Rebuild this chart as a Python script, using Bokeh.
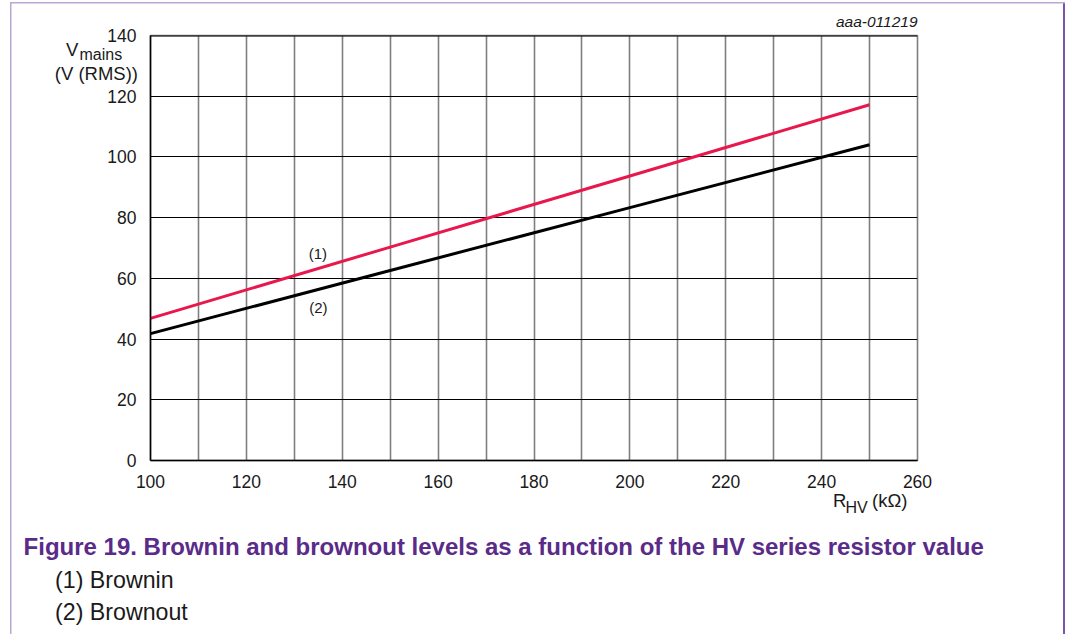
from bokeh.plotting import figure
from bokeh.models import Range1d, FixedTicker, Label, ColumnDataSource, Span
from bokeh.embed import file_html
from bokeh.resources import INLINE

# ---- data ----
r_hv = [100, 150, 200, 250]            # kOhm
brownin = [46.8, 70.3, 93.7, 117.2]    # V (RMS)
brownout = [41.8, 62.6, 83.3, 104.0]   # V (RMS)
x_ticks = [100, 120, 140, 160, 180, 200, 220, 240, 260]
y_ticks = [0, 20, 40, 60, 80, 100, 120, 140]
x_grid = list(range(100, 261, 10))

# canvas placed at page (10, 2) via CSS margin
OX, OY = 10, 2
W, H = 1055, 632
PL, PR, PT, PB = 149.5, 917, 35, 460   # frame edges in page px
FONT = "Liberation Sans"
TXT = "#1a1a1a"

p = figure(width=W, height=H, output_backend="svg", toolbar_location=None,
           x_range=Range1d(100, 260), y_range=Range1d(0, 140),
           min_border_left=int(round(PL - OX)), min_border_right=int(OX + W - PR),
           min_border_top=PT - OY, min_border_bottom=OY + H - PB)
p.styles = {"margin-left": f"{OX}px", "margin-top": f"{OY}px",
            "box-shadow": "inset 1.5px 1.5px 0 #bba8d2, inset -2px 0 0 #7d52ad"}
p.outline_line_color = "#7f7f7f"
p.outline_line_width = 1.6
p.background_fill_color = "white"
p.border_fill_color = None

p.xaxis.ticker = FixedTicker(ticks=x_ticks)
p.yaxis.ticker = FixedTicker(ticks=y_ticks)
for ax in (p.xaxis[0], p.yaxis[0]):
    ax.axis_line_color = "black"
    ax.axis_line_width = 1.5
    ax.major_tick_line_color = None
    ax.minor_tick_line_color = None
    ax.major_label_text_font = FONT
    ax.major_label_text_font_size = "17.5px"
    ax.major_label_text_color = TXT
p.yaxis.major_label_standoff = 8
p.xaxis.major_label_standoff = 8

p.xgrid.ticker = FixedTicker(ticks=x_grid)
p.xgrid.grid_line_color = "#7f7f7f"
p.xgrid.grid_line_width = 1.6
p.ygrid.ticker = FixedTicker(ticks=y_ticks)
p.ygrid.grid_line_color = "#000000"
p.ygrid.grid_line_width = 1
p.add_layout(Span(location=140, dimension="width", line_color="black", line_width=2))

src = ColumnDataSource(dict(x=r_hv, bin=brownin, bout=brownout))
p.line("x", "bin", source=src, line_color="#e8184d", line_width=3)
p.line("x", "bout", source=src, line_color="#000000", line_width=3)

# page px -> data helpers for annotation placement
def dx(px):
    return 100 + (px - PL) * 160 / (PR - PL)
def dy(py):
    return (PB - py) * 140 / (PB - PT)

def lab(text, px, py, size, place="center", **kw):
    kw.setdefault("text_color", TXT)
    kw.setdefault("text_baseline", "alphabetic")
    kw.setdefault("text_align", "left")
    if kw["text_baseline"] == "alphabetic":
        py = py - 0.3 * size   # rendered baseline sits a bit lower than the anchor
    l = Label(x=dx(px), y=dy(py), text=text, text_font=FONT, text_font_size=f"{size}px", **kw)
    if place == "center":
        p.add_layout(l)
    else:
        p.add_layout(l, place)
    return l

lab("(1)", 317, 253, 15, text_align="center", text_baseline="middle")
lab("(2)", 317.5, 306.5, 15, text_align="center", text_baseline="middle")
lab("aaa-011219", 917, 26, 15.5, "above", text_align="right", text_font_style="italic")

# y axis title
lab("V", 65, 55, 18.5, "right")
lab("mains", 78.5, 59, 16, "right")
lab("(V (RMS))", 137, 78.5, 18.5, "left", text_align="right")
# x axis title
lab("R", 832.5, 506, 18.5, "below")
lab("HV", 845, 512, 16, "right")
lab("(kΩ)", 871.5, 506, 18.5, "right")

# caption
lab("Figure 19.  Brownin and brownout levels as a function of the HV series resistor value",
    22.5, 553.5, 24, "below", text_font_style="bold", text_color="#5a2b88")
lab("(1) Brownin", 54, 586, 23.2, "below")
lab("(2) Brownout", 54, 618, 23.2, "below")

open("out.html", "w").write(file_html(p, INLINE))
